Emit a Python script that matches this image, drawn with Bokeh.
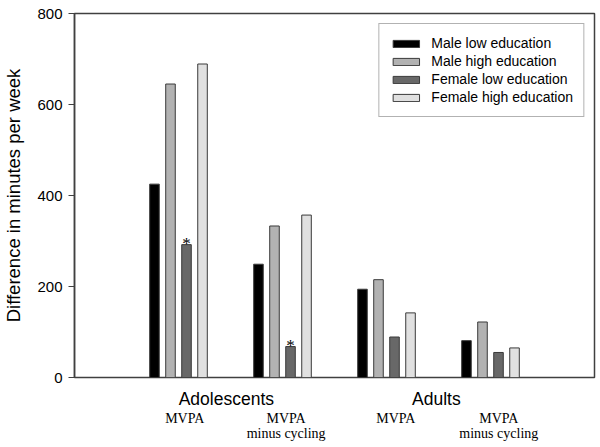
from bokeh.plotting import figure
from bokeh.models import Range1d, FixedTicker, LinearAxis, Legend, LegendItem, ColumnDataSource
from bokeh.core.properties import value
from bokeh.embed import file_html
from bokeh.resources import INLINE

# ---- data ----
groups = [1, 2, 3, 4]
series_names = ["Male low education", "Male high education",
                "Female low education", "Female high education"]
male_low = [425, 249, 194, 81]
male_high = [645, 333, 215, 122]
female_low = [292, 68, 89, 55]
female_high = [689, 357, 142, 65]
significant_female_low = [True, True, False, False]
population_labels = ["Adolescents", "Adults"]
measure_labels = ["MVPA", "MVPA\nminus cycling", "MVPA", "MVPA\nminus cycling"]
y_ticks = [0, 200, 400, 600, 800]

colors = ["#000000", "#b2b2b2", "#686868", "#e0e0e0"]
offsets = [-0.231, -0.077, 0.077, 0.231]
bar_w = 0.092

p = figure(width=600, height=447, output_backend="svg", toolbar_location=None,
           x_range=Range1d(0, 5), y_range=Range1d(0, 800),
           min_border_left=72, min_border_right=8, min_border_top=13, min_border_bottom=70)
p.frame_width = 520
p.frame_height = 364
p.xgrid.visible = False
p.ygrid.visible = False
p.background_fill_color = "white"
p.border_fill_color = "white"
p.outline_line_color = "#404040"
p.outline_line_width = 1.5

all_series = [male_low, male_high, female_low, female_high]
items = []
for name, vals, col, off in zip(series_names, all_series, colors, offsets):
    src = ColumnDataSource(dict(x=[g + off for g in groups], top=vals))
    r = p.vbar(x="x", top="top", bottom=0, width=bar_w, source=src,
               fill_color=col, line_color="#3a3a3a", line_width=1)
    items.append(LegendItem(label=name, renderers=[r]))

# asterisks
ax = [g + offsets[2] for g, s in zip(groups, significant_female_low) if s]
ay = [v for v, s in zip(female_low, significant_female_low) if s]
p.text(x=ax, y=ay, text=["*"] * len(ax), text_align="center", text_baseline="alphabetic",
       text_font=value("Liberation Serif"), text_font_size="17px", text_color="black",
       y_offset=-1)

legend = Legend(items=items, location="top_right", margin=10, padding=10, spacing=0,
                label_height=18, glyph_height=9, glyph_width=33, label_standoff=9,
                label_text_font="Liberation Sans", label_text_font_size="14px",
                label_text_color="black", border_line_color="#666666", border_line_width=1,
                background_fill_alpha=1.0)
p.add_layout(legend)

# y axis
yax = p.yaxis[0]
yax.ticker = FixedTicker(ticks=y_ticks)
yax.minor_tick_line_color = None
yax.major_tick_in = 0
yax.major_tick_out = 6
yax.major_tick_line_color = "#404040"
yax.axis_line_color = "#404040"
yax.axis_line_width = 1.5
yax.major_label_text_font = "Liberation Sans"
yax.major_label_text_font_size = "15px"
yax.major_label_text_color = "black"
yax.major_label_standoff = 6
yax.axis_label = "Difference in minutes per week"
yax.axis_label_text_font = "Liberation Sans"
yax.axis_label_text_font_size = "18.5px"
yax.axis_label_text_font_style = "normal"
yax.axis_label_text_color = "black"
yax.axis_label_standoff = 10

# x axis: population labels
pop_x = [1.46, 3.48]
xax = p.xaxis[0]
xax.ticker = FixedTicker(ticks=pop_x)
xax.major_label_overrides = {x: t for x, t in zip(pop_x, population_labels)}
xax.axis_line_color = None
xax.major_tick_line_color = None
xax.minor_tick_line_color = None
xax.major_label_text_font = "Liberation Sans"
xax.major_label_text_font_size = "17.5px"
xax.major_label_text_color = "black"
xax.major_label_standoff = 5

# second x axis: measure labels
label_x = [g + d for g, d in zip(groups, [0.06, 0.035, 0.09, 0.08])]
xax2 = LinearAxis(ticker=FixedTicker(ticks=label_x),
                  major_label_overrides={x: t for x, t in zip(label_x, measure_labels)})
xax2.axis_line_color = None
xax2.major_tick_line_color = None
xax2.minor_tick_line_color = None
xax2.major_label_text_font = "Liberation Serif"
xax2.major_label_text_font_size = "14px"
xax2.major_label_text_color = "black"
xax2.major_label_standoff = -7
xax2.major_label_text_line_height = 1.0
p.add_layout(xax2, "below")

open("out.html", "w").write(file_html(p, INLINE))
